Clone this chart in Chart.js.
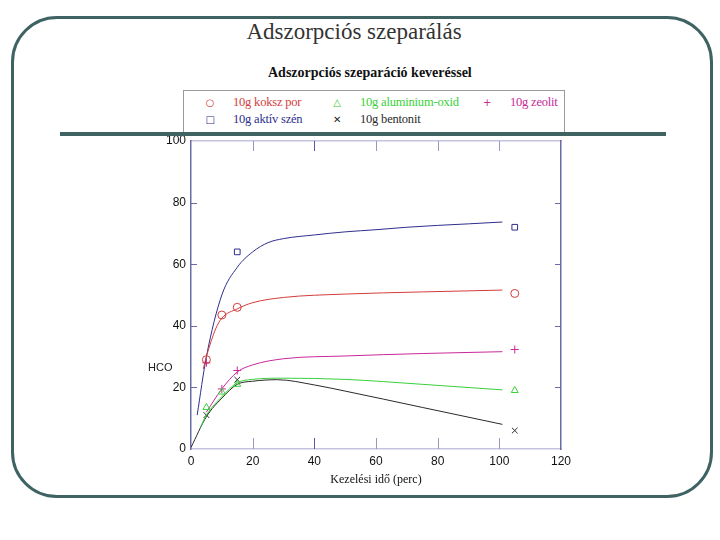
<!DOCTYPE html>
<html>
<head>
<meta charset="utf-8">
<script src="https://cdn.jsdelivr.net/npm/chart.js@4.4.1/dist/chart.umd.min.js"></script>
<style>
  html, body { margin: 0; padding: 0; background: #fff; }
  #page { position: relative; width: 720px; height: 540px; overflow: hidden; font-family: "Liberation Serif", serif; }
  #frame { position: absolute; left: 11px; top: 16px; width: 696px; height: 476px; border: 3px solid #3f6363; border-radius: 46px; }
  #slideTitle { position: absolute; left: 0; width: 708px; top: 19px; text-align: center; font-size: 23px; color: #333; }
  #chartTitle { position: absolute; left: 268px; width: 202px; top: 65px; text-align: center; font-size: 14px; font-weight: bold; color: #111; white-space: nowrap; }
  #bar { position: absolute; left: 60px; top: 132px; width: 606px; height: 4px; background: #3f6363; }
  #chart { position: absolute; left: 0; top: 0; }
  #legend { position: absolute; left: 183px; top: 90px; width: 380px; height: 41px; border: 1px solid #9a9a9a; border-bottom: none; background: #fff; font-size: 12.5px; letter-spacing: -0.2px; }
  .item { position: absolute; white-space: nowrap; }
  .item .sym { display: inline-block; width: 24px; text-align: center; margin-right: 11px; font-family: "DejaVu Sans", sans-serif; font-size: 10px; }
  #hco { position: absolute; left: 148px; top: 361px; font-family: "Liberation Sans", sans-serif; font-size: 11px; color: #222; }
</style>
</head>
<body>
<div id="page">
  <div id="frame"></div>
  <div id="slideTitle">Adszorpciós szeparálás</div>
  <div id="chartTitle">Adszorpciós szeparáció keveréssel</div>
  <canvas id="chart" width="720" height="540"></canvas>
  <div id="legend"></div>
  <div id="bar"></div>
  <div id="hco">HCO</div>
</div>
<script>
// mért pontok (perc, %)
const kokszPoints = [{x: 5, y: 29}, {x: 10, y: 43.5}, {x: 15, y: 46}, {x: 105, y: 50.5}];
const aktivPoints = [{x: 15, y: 64}, {x: 105, y: 72}];
const aluPoints = [{x: 5, y: 13.5}, {x: 10, y: 18.5}, {x: 15, y: 21}, {x: 105, y: 19}];
const bentonitPoints = [{x: 5, y: 11}, {x: 15, y: 22.5}, {x: 105, y: 6}];
const zeolitPoints = [{x: 5, y: 28}, {x: 10, y: 19.5}, {x: 15, y: 25.5}, {x: 105, y: 32.3}];

// illesztett görbék
const kokszCurve = [{x: 4, y: 26}, {x: 5, y: 30}, {x: 8, y: 39}, {x: 10, y: 42.5}, {x: 15, y: 45.5}, {x: 20, y: 47.5}, {x: 30, y: 49.2}, {x: 50, y: 50.3}, {x: 75, y: 51}, {x: 101, y: 51.6}];
const aktivCurve = [{x: 2, y: 11}, {x: 5, y: 30}, {x: 10, y: 50}, {x: 15, y: 59}, {x: 20, y: 64}, {x: 25, y: 67}, {x: 30, y: 68.3}, {x: 40, y: 69.5}, {x: 50, y: 70.5}, {x: 60, y: 71.2}, {x: 70, y: 72}, {x: 80, y: 72.6}, {x: 90, y: 73.1}, {x: 101, y: 73.7}];
const aluCurve = [{x: 3, y: 7}, {x: 5, y: 11}, {x: 10, y: 17}, {x: 15, y: 21.5}, {x: 20, y: 22.6}, {x: 30, y: 23}, {x: 50, y: 22.6}, {x: 75, y: 21}, {x: 101, y: 19.2}];
const bentonitCurve = [{x: 0, y: 0.5}, {x: 5, y: 10.5}, {x: 10, y: 16.5}, {x: 15, y: 21}, {x: 20, y: 22}, {x: 28, y: 22.5}, {x: 40, y: 20.8}, {x: 50, y: 18.8}, {x: 75, y: 13.5}, {x: 101, y: 8}];
const zeolitCurve = [{x: 5, y: 12}, {x: 10, y: 19.5}, {x: 15, y: 25}, {x: 20, y: 27.3}, {x: 30, y: 29.3}, {x: 50, y: 30.2}, {x: 75, y: 31}, {x: 101, y: 31.6}];

const xTicks = [0, 20, 40, 60, 80, 100, 120];
const yTicks = [0, 20, 40, 60, 80, 100];

const series = [
  { name: "10g koksz por", color: "#d23c3c", style: "circle", sym: "○", points: kokszPoints, curve: kokszCurve },
  { name: "10g aktív szén", color: "#2e2e8c", style: "rect", sym: "□", points: aktivPoints, curve: aktivCurve },
  { name: "10g aluminium-oxid", color: "#38d038", style: "triangle", sym: "△", points: aluPoints, curve: aluCurve },
  { name: "10g bentonit", color: "#2a2a2a", style: "crossRot", sym: "✕", points: bentonitPoints, curve: bentonitCurve },
  { name: "10g zeolit", color: "#c8289a", style: "cross", sym: "+", points: zeolitPoints, curve: zeolitCurve }
];

const datasets = [];
series.forEach(s => {
  datasets.push({
    label: s.name + " görbe",
    data: s.curve,
    showLine: true,
    borderColor: s.color,
    borderWidth: 1,
    pointRadius: 0,
    cubicInterpolationMode: 'monotone'
  });
  datasets.push({
    label: s.name,
    data: s.points,
    showLine: false,
    borderColor: s.color,
    backgroundColor: 'transparent',
    borderWidth: 1,
    pointStyle: s.style,
    pointRadius: 4
  });
});

// befelé mutató osztásjelek
const innerTicks = {
  id: 'innerTicks',
  afterDraw(chart) {
    const { ctx, chartArea: a, scales } = chart;
    ctx.save();
    ctx.lineWidth = 1;
    xTicks.slice(1, -1).forEach(v => {
      const px = Math.round(scales.x.getPixelForValue(v)) + 0.5;
      ctx.strokeStyle = v === 40 ? '#5a5aa8' : '#9898c4';
      ctx.beginPath();
      ctx.moveTo(px, a.bottom); ctx.lineTo(px, a.bottom - 11);
      ctx.moveTo(px, a.top); ctx.lineTo(px, a.top + 10);
      ctx.stroke();
    });
    ctx.strokeStyle = '#6a6aa8';
    yTicks.slice(1, -1).forEach(v => {
      const py = Math.round(scales.y.getPixelForValue(v)) + 0.5;
      ctx.beginPath();
      ctx.moveTo(a.left, py); ctx.lineTo(a.left + 6, py);
      ctx.moveTo(a.right, py); ctx.lineTo(a.right - 6, py);
      ctx.stroke();
    });
    ctx.restore();
  }
};

new Chart(document.getElementById('chart'), {
  type: 'scatter',
  data: { datasets: datasets },
  options: {
    responsive: false,
    animation: false,
    layout: { padding: { left: 146, right: 159, top: 141, bottom: 46 } },
    plugins: {
      legend: { display: false },
      tooltip: { enabled: false },
      title: { display: false }
    },
    scales: {
      x: {
        type: 'linear', min: 0, max: 120,
        afterBuildTicks: scale => { scale.ticks = xTicks.map(v => ({ value: v })); },
        afterFit: scale => { scale.height = 45; },
        grid: { drawOnChartArea: false, drawTicks: false },
        border: { color: '#c4c4e0', width: 1.5 },
        ticks: { padding: 5, color: '#111', font: { family: 'Liberation Sans', size: 12 } },
        title: {
          display: true, text: 'Kezelési idő (perc)', color: '#111',
          font: { family: 'Liberation Serif', size: 12 },
          padding: { top: 7, bottom: 7 }
        }
      },
      x2: {
        type: 'linear', position: 'top', min: 0, max: 120,
        afterFit: scale => { scale.height = 0; },
        grid: { drawOnChartArea: false, drawTicks: false },
        border: { color: '#c4c4e0', width: 1.5 },
        ticks: { display: false }
      },
      y: {
        type: 'linear', min: 0, max: 100,
        afterBuildTicks: scale => { scale.ticks = yTicks.map(v => ({ value: v })); },
        afterFit: scale => { scale.width = 45; },
        grid: { drawOnChartArea: false, drawTicks: false },
        border: { color: '#6a6aa8', width: 1.5 },
        ticks: { padding: 5, color: '#111', font: { family: 'Liberation Sans', size: 12 } }
      },
      y2: {
        type: 'linear', position: 'right', min: 0, max: 100,
        afterFit: scale => { scale.width = 0; },
        grid: { drawOnChartArea: false, drawTicks: false },
        border: { color: '#6a6aa8', width: 1.5 },
        ticks: { display: false }
      }
    }
  },
  plugins: [innerTicks]
});

// jelmagyarázat HTML-ben
const legendPos = [
  { left: 14, top: 4 }, { left: 14, top: 21 },
  { left: 141, top: 4 }, { left: 141, top: 21 },
  { left: 291, top: 4 }
];
const legendBox = document.getElementById('legend');
legendBox.innerHTML = series.map((s, i) => `
  <div class="item" style="left:${legendPos[i].left}px;top:${legendPos[i].top}px;color:${s.color}">
    <span class="sym">${s.sym}</span>${s.name}
  </div>`).join('');
</script>
</body>
</html>
